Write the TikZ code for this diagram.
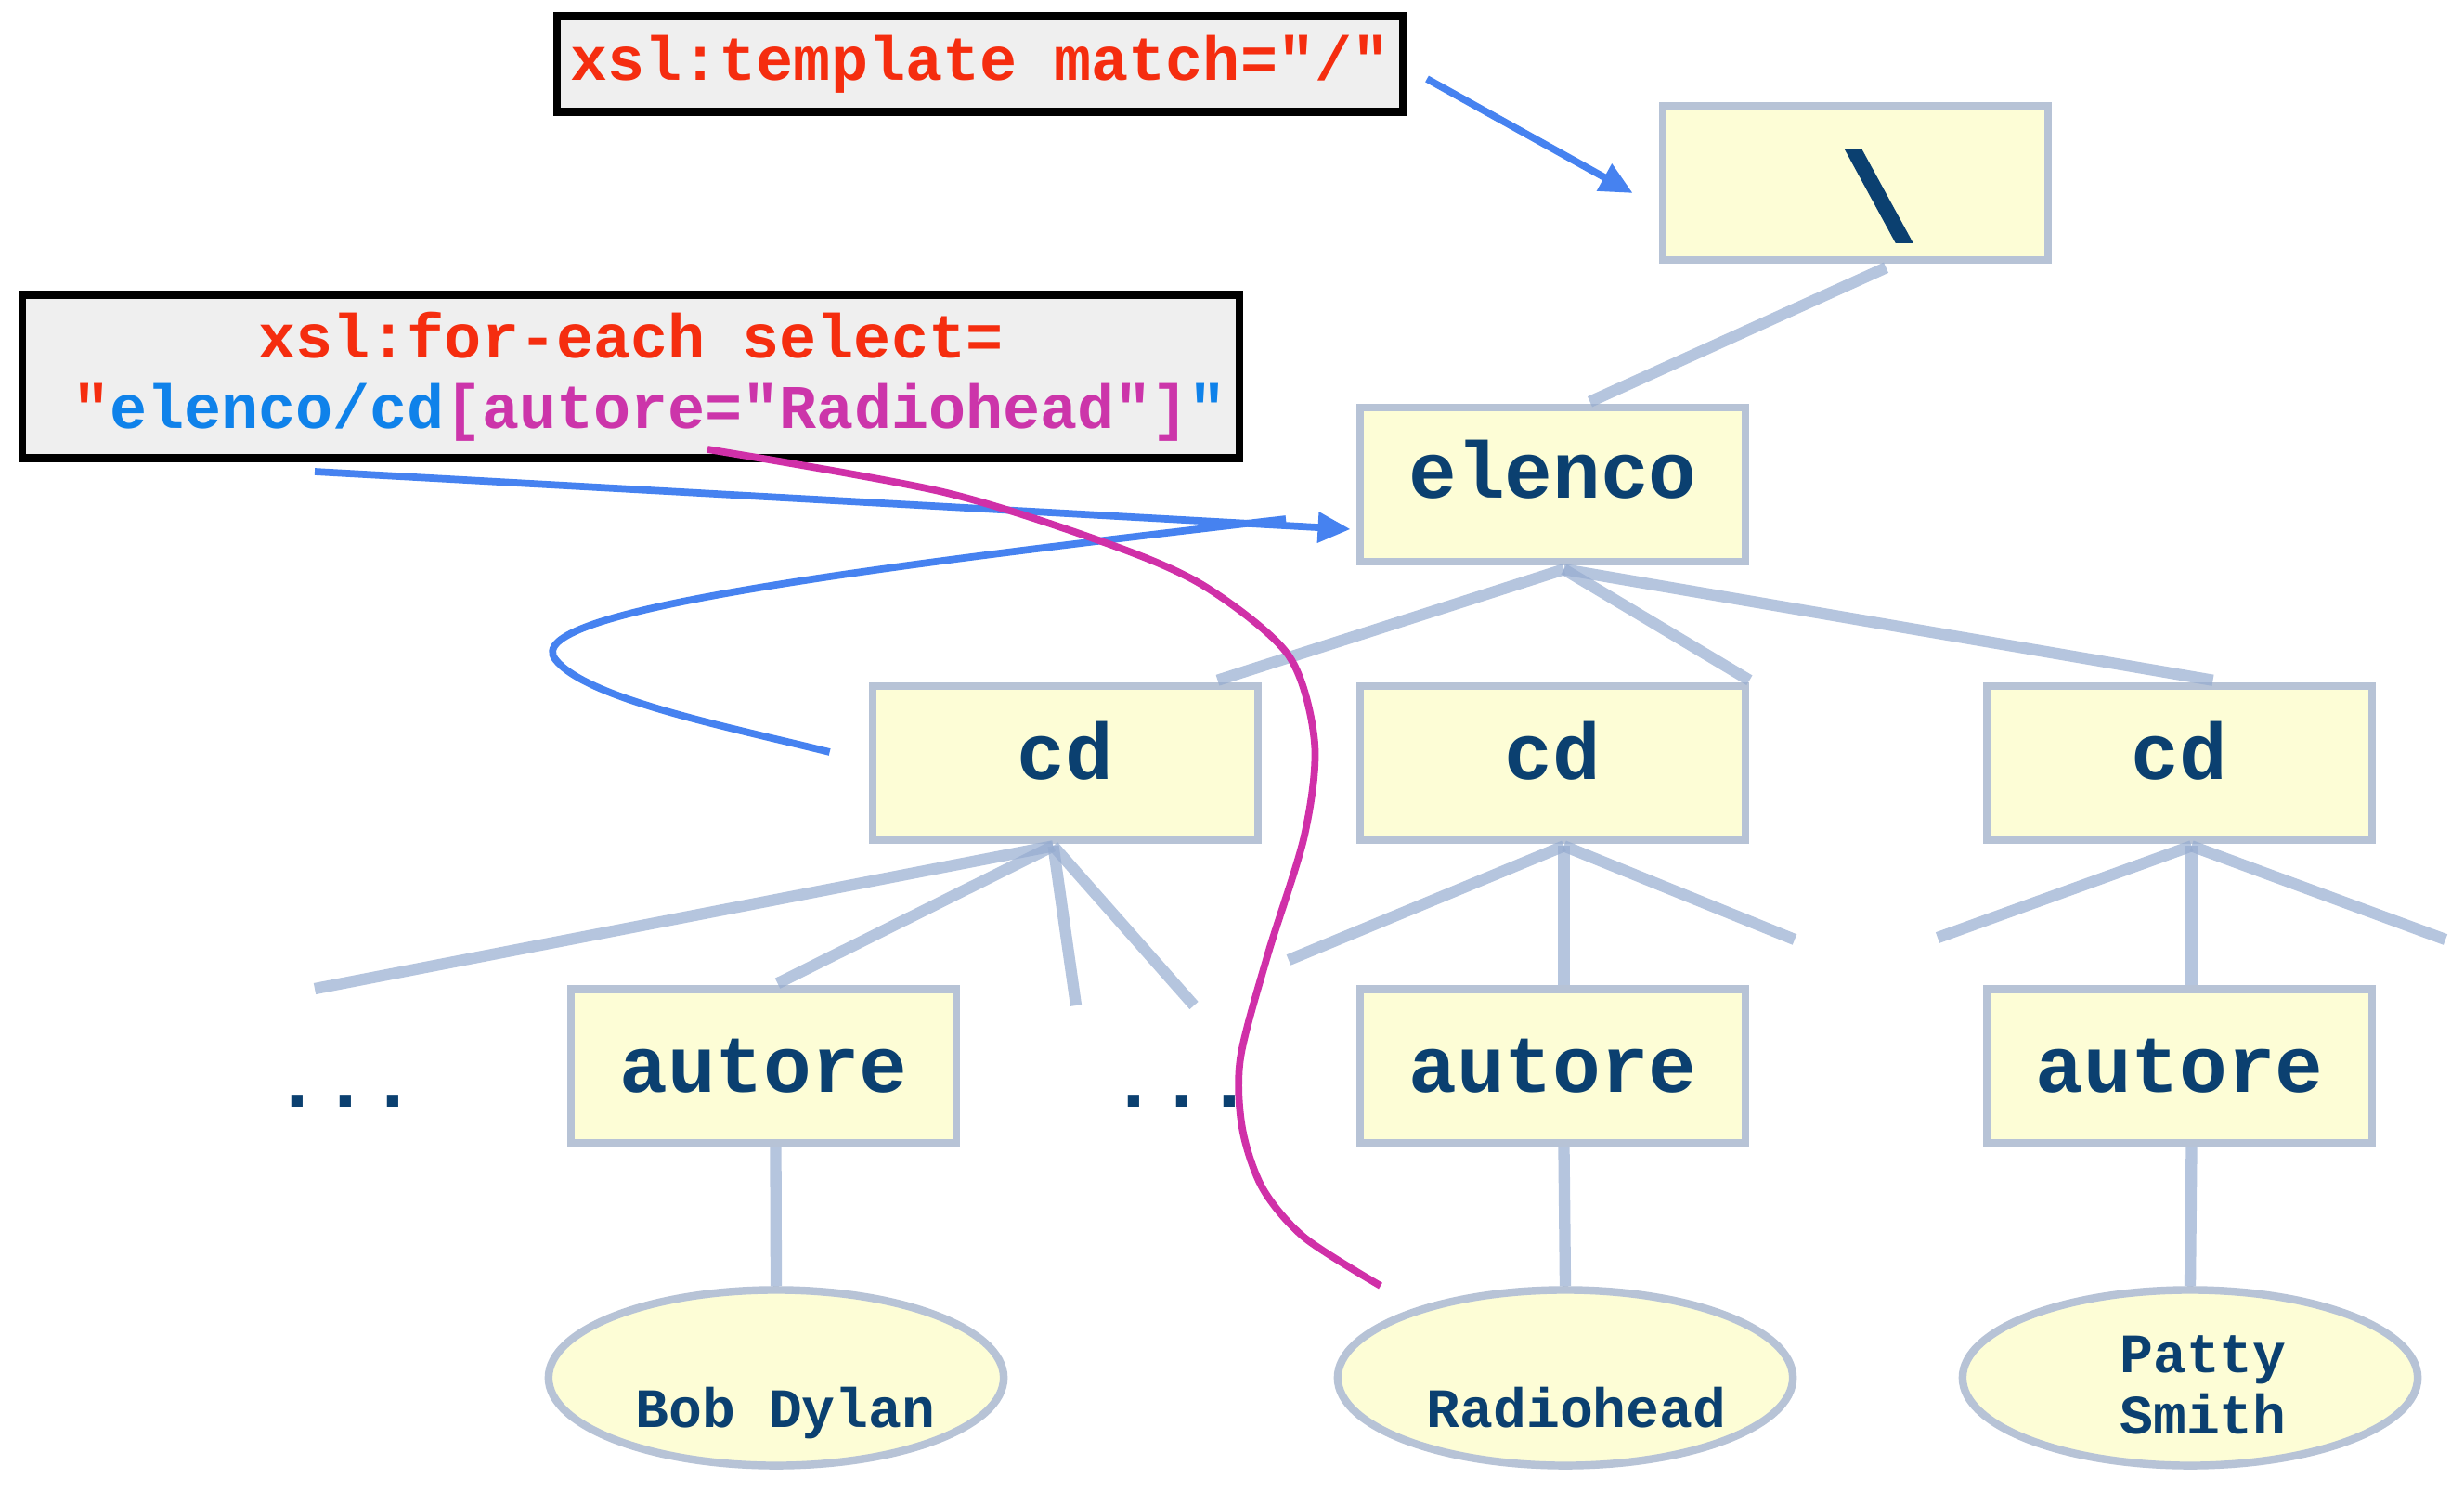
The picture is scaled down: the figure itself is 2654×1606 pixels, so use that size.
\documentclass[tikz,border=0pt]{standalone}
\usepackage{fontspec}
\setmonofont{Liberation Mono}
\font\glyphfont="Liberation Mono/B:embolden=2.5" at 38pt
\usetikzlibrary{arrows.meta,shapes.geometric,calc}
\definecolor{nodefill}{HTML}{FDFDD6}
\definecolor{nodeline}{HTML}{B7C3D6}
\definecolor{treeline}{RGB}{150,172,208}
\definecolor{txtblue}{HTML}{0B4070}
\definecolor{codefill}{HTML}{EFEFEF}
\definecolor{codered}{RGB}{245,45,15}
\definecolor{codeblue}{RGB}{15,130,234}
\definecolor{codemag}{RGB}{204,53,170}
\definecolor{arrowblue}{RGB}{70,130,240}
\definecolor{curvemag}{RGB}{208,48,168}
\begin{document}
\begin{tikzpicture}[x=0.01cm,y=-0.01cm,
  treebox/.style={draw=nodeline, line width=2.4pt, fill=nodefill, minimum width=4.15cm, minimum height=1.66cm, inner sep=0pt, font=\ttfamily\bfseries\fontsize{24.5}{28}\selectfont, text=txtblue},
  leaf/.style={ellipse, draw=nodeline, line width=2.4pt, fill=nodefill, minimum width=4.90cm, minimum height=1.89cm, inner sep=0pt},
  leaftext/.style={font=\ttfamily\bfseries\fontsize{17}{18.8}\selectfont, text=txtblue, align=center, inner sep=0pt},
  rootglyph/.style={font=\glyphfont, text=txtblue, inner sep=0pt, xshift=0.25cm, yshift=-0.14cm},
  codebox/.style={draw=black, line width=2.4pt, fill=codefill, inner sep=0pt, align=center, font=\ttfamily\bfseries\fontsize{19}{21.6}\selectfont, text=codered},
  dotstext/.style={font=\ttfamily\bfseries\fontsize{24.5}{28}\selectfont, text=txtblue, inner sep=0pt, anchor=base},
  branch/.style={draw=treeline, draw opacity=0.7, line width=3.5pt},
  pointer/.style={draw=arrowblue, line width=2.2pt, -{Triangle[length=10pt,width=9pt]}},
  loopline/.style={draw=arrowblue, line width=2.2pt},
  magline/.style={draw=curvemag, line width=2.2pt}
]
\useasboundingbox (0,0) rectangle (2654,1606);

% code boxes
\node[codebox, minimum width=9.10cm, minimum height=1.03cm] (tmpl) at (1055.5,69) {xsl:template match="/"};
\node[codebox, minimum width=13.10cm, minimum height=1.76cm] (foreach) at (679.5,405.5)
  {xsl:for-each select=\\\hphantom{"}"\textcolor{codeblue}{elenco/cd}\textcolor{codemag}{[autore="Radiohead"]}\textcolor{codeblue}{"}};

% tree nodes
\node[treebox, label={[rootglyph]center:\textbackslash}] (root) at (1998.5,197) {};
\node[treebox] (elenco) at (1672.5,522) {\raisebox{0.34cm}{elenco}};
\node[treebox] (cd1) at (1147.5,822) {\raisebox{0.27cm}{cd}};
\node[treebox] (cd2) at (1672.5,822) {\raisebox{0.27cm}{cd}};
\node[treebox] (cd3) at (2347.5,822) {\raisebox{0.27cm}{cd}};
\node[treebox] (au1) at (822.5,1148.5) {autore};
\node[treebox] (au2) at (1672.5,1148.5) {autore};
\node[treebox] (au3) at (2347.5,1148.5) {autore};

\node[leaf, label={[leaftext, xshift=0.10cm, yshift=-0.38cm]center:Bob Dylan}] (bd) at (836,1484) {};
\node[leaf, label={[leaftext, xshift=0.12cm, yshift=-0.32cm]center:Radiohead}] (rh) at (1686,1484) {};
\node[leaf, label={[leaftext, xshift=0.14cm, yshift=-0.08cm]center:Patty\\Smith}] (ps) at (2359,1484) {};

\node[dotstext] (dots1) at (372,1192) {...};
\node[dotstext] (dots2) at (1273,1192) {...};

% free ends of branches
\coordinate (f1) at (339,1065);
\coordinate (f2) at (1159,1083);
\coordinate (f3) at (1286,1083);
\coordinate (f4) at (1388,1034);
\coordinate (f5) at (1933,1012);
\coordinate (f6) at (2087,1010);
\coordinate (f7) at (2634,1012);

% branches
\draw[branch] ($(root.south)+(33,4)$) -- ($(elenco.north)+(40,-2)$);
\draw[branch] ($(elenco.south)+(12,4)$) -- ($(cd1.north)+(164,-2)$);
\draw[branch] ($(elenco.south)+(12,4)$) -- ($(cd2.north east)+(0,-2)$);
\draw[branch] ($(elenco.south)+(12,4)$) -- ($(cd3.north)+(36,-2)$);
\draw[branch] ($(cd1.south)+(-13,2)$) -- (f1);
\draw[branch] ($(cd1.south)+(-13,2)$) -- ($(au1.north)+(15,-2)$);
\draw[branch] ($(cd1.south)+(-13,2)$) -- (f2);
\draw[branch] ($(cd1.south)+(-13,2)$) -- (f3);
\draw[branch] ($(cd2.south)+(12,2)$) -- (f4);
\draw[branch] ($(cd2.south)+(12,2)$) -- ($(au2.north)+(12,0)$);
\draw[branch] ($(cd2.south)+(12,2)$) -- (f5);
\draw[branch] ($(cd3.south)+(13,2)$) -- (f6);
\draw[branch] ($(cd3.south)+(13,2)$) -- ($(au3.north)+(13,0)$);
\draw[branch] ($(cd3.south)+(13,2)$) -- (f7);
\draw[branch] ($(au1.south)+(13,0)$) -- (bd.north);
\draw[branch] ($(au2.south)+(12,0)$) -- (rh.north);
\draw[branch] ($(au3.south)+(13,0)$) -- (ps.north);

% blue pointers
\coordinate (tstart) at (1537,85);
\coordinate (fstart) at (339,508);
\coordinate (lstart) at (1385,559);
\draw[pointer] (tstart) -- ($(root.west)+(-28,11)$);
\draw[pointer] (fstart) -- ($(elenco.west)+(-6,48)$);
\draw[loopline] (lstart) .. controls (900,615) and (560,660) .. (598,710)
  .. controls (630,752) and (780,782) .. ($(cd1.west)+(-42,-12)$);

% magenta curve
\coordinate (mstart) at (762,484);
\coordinate (mend) at (1487,1385);
\draw[magline] plot[smooth] coordinates {(mstart) (1016,530) (1200,588) (1300,633) (1388,706) (1416,800) (1405,900) (1365,1030) (1336,1140) (1338,1215) (1360,1280) (1405,1333) (mend)};
\end{tikzpicture}
\end{document}
